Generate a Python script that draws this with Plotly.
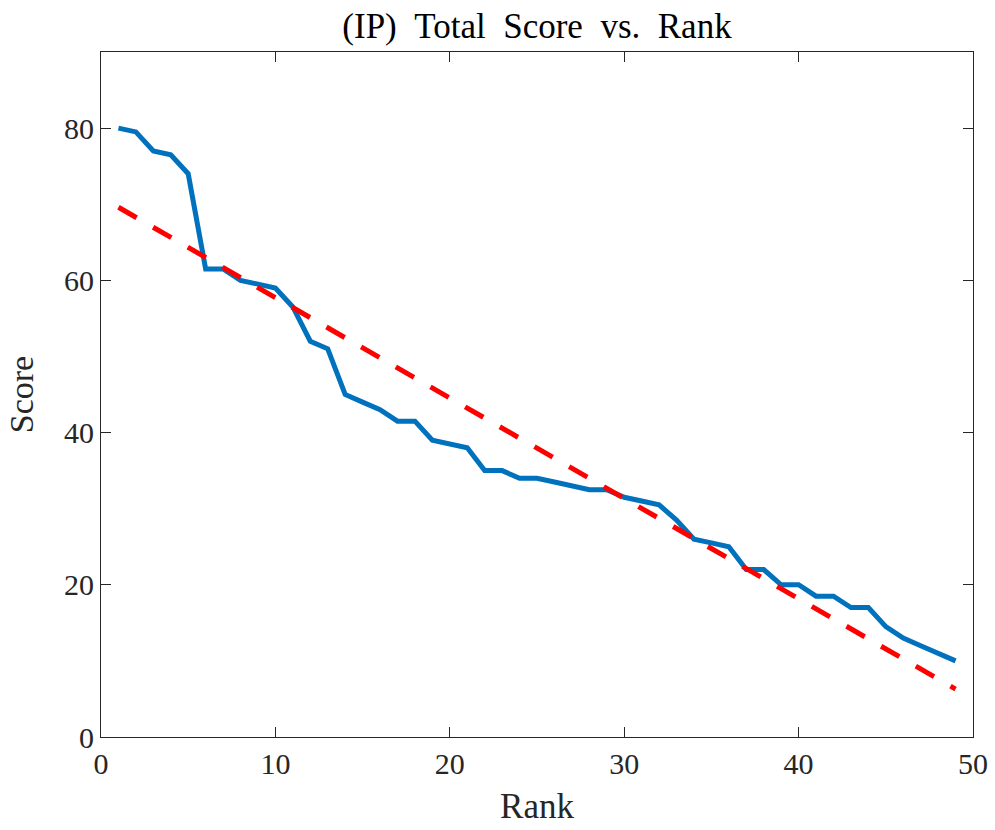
import plotly.graph_objects as go

rank = list(range(1, 50))
score = [80, 79.5, 77, 76.5, 74, 61.5, 61.5, 60, 59.5, 59,
         56.5, 52, 51, 45, 44, 43, 41.5, 41.5, 39, 38.5,
         38, 35, 35, 34, 34, 33.5, 33, 32.5, 32.5, 31.5,
         31, 30.5, 28.5, 26, 25.5, 25, 22, 22, 20, 20,
         18.5, 18.5, 17, 17, 14.5, 13, 12, 11, 10]
fit_x = [1, 49]
fit_y = [69.6, 6.3]

x_ticks = [0, 10, 20, 30, 40, 50]
y_ticks = [0, 20, 40, 60, 80]

FONT = "Liberation Serif, DejaVu Serif, serif"
GAP = " \u00a0"
title_text = GAP.join(["(IP)", "Total", "Score", "vs.", "Rank"])

fig = go.Figure()
fig.add_trace(go.Scatter(x=rank, y=score, mode="lines",
                         line=dict(color="#0072BD", width=5),
                         showlegend=False))
fig.add_trace(go.Scatter(x=fit_x, y=fit_y, mode="lines",
                         line=dict(color="#FF0000", width=5, dash="21px,19px"),
                         showlegend=False))

axis_common = dict(showline=True, linecolor="#262626", linewidth=1.2, mirror="ticks",
                   ticks="inside", ticklen=10, tickwidth=1.2, tickcolor="#262626",
                   showgrid=False, zeroline=False, automargin=False,
                   tickfont=dict(family=FONT, size=30, color="#262626"))

fig.update_layout(
    width=995, height=830,
    margin=dict(l=101, r=22, t=52, b=93),
    plot_bgcolor="white", paper_bgcolor="white",
    title=dict(text=title_text, x=0.5, xref="paper", xanchor="center",
               y=0.969, yanchor="middle", automargin=False,
               font=dict(family=FONT, size=35, color="#000000")),
    xaxis=dict(range=[0, 50], tickvals=x_ticks,
               title=dict(text="Rank", font=dict(family=FONT, size=35, color="#262626"), standoff=14),
               **axis_common),
    yaxis=dict(range=[0, 90], tickvals=y_ticks,
               title=dict(text="Score", font=dict(family=FONT, size=34, color="#262626"), standoff=20),
               **axis_common),
)

# remove the browser's default 8px body margin so the figure fills the window
fig.write_html("out.html", config={"displayModeBar": False},
               post_script="document.body.style.margin='0';")
